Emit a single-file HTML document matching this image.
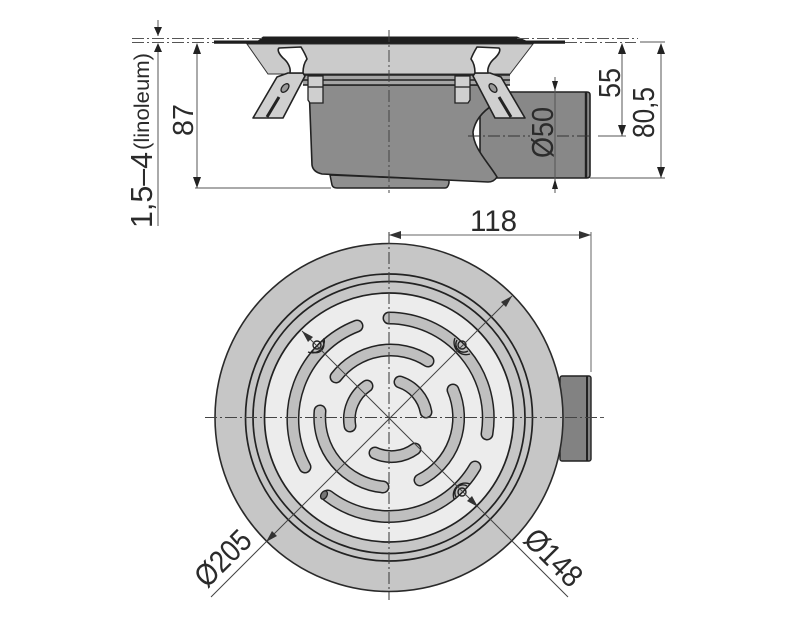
<!DOCTYPE html>
<html><head><meta charset="utf-8"><style>
html,body{margin:0;padding:0;background:#fff}
svg{display:block}
text{font-family:"Liberation Sans",sans-serif;fill:#2b2b2b}
</style></head><body>
<svg width="799" height="630" viewBox="0 0 799 630" xmlns="http://www.w3.org/2000/svg">
<defs>
<g id="clip">
<path d="M305 76 L283 118 L253 118 L277 77 L288 73 L303 73 Z" fill="#cfcfcf" stroke="#222" stroke-width="1.6" stroke-linejoin="round"/>
<path d="M267 117 L279 97" stroke="#222" stroke-width="3" fill="none"/>
<ellipse cx="285" cy="88" rx="5" ry="3" transform="rotate(-50 285 88)" fill="#999" stroke="#222" stroke-width="1.3"/>
<path d="M290 73 C291 68 288 62 283 58 C279 54 277 50 279 48 L301 47 C304 52 306 56 307 59 C304 63 303 68 303 73 Z" fill="#fff" stroke="#222" stroke-width="1.6" stroke-linejoin="round"/>
<path d="M308 76 H323 V103 H310 L308 100 Z" fill="#cfcfcf" stroke="#222" stroke-width="1.3"/>
<path d="M308 87 H323" stroke="#222" stroke-width="1.3"/>
</g>
</defs>

<!-- side view -->
<path d="M247 44 H533 L510 74 H268 Z" fill="#cbcbcb" stroke="#333" stroke-width="1"/>
<path d="M480 92 H587 Q590 92 590 95 V175 Q590 178 587 178 H480 Z" fill="#888" stroke="#222" stroke-width="1.6"/>
<path d="M586 92 V178" stroke="#222" stroke-width="2.4"/>
<path d="M330 175 L332 185 Q333 188 337 188 H445 Q448 188 449 183 L449 180 Z" fill="#8f8f8f" stroke="#222" stroke-width="1.5"/>
<path d="M309 85 L312 165 Q313 172 322 174 L488 182 Q494 182 497 177 C488 162 473 148 473 132 C475 120 483 110 498 102 L500 85 Z" fill="#8c8c8c" stroke="#222" stroke-width="1.6"/>
<rect x="303" y="75" width="207" height="10" fill="#a5a5a5"/>
<path d="M303 75 H510 M303 80 H510 M303 85 H510" stroke="#222" stroke-width="1.4"/>
<use href="#clip"/>
<use href="#clip" transform="translate(778 0) scale(-1 1)"/>
<path d="M214 40.5 H258 L263 36.5 H517 L526 40.5 H565 V43.8 H214 Z" fill="#1e1e1e"/>

<!-- side dims -->
<g stroke="#555" stroke-width="1" fill="none">
<path d="M132 38.5 H262 M517 38.5 H638 M132 42.5 H214 M565 42.5 H636" stroke-dasharray="12 3 2 3"/>
<path d="M389 30 V193" stroke-dasharray="12 3 2 3" stroke="#444"/>
<path d="M468 136 H530 M557 136 H590" stroke-dasharray="12 3 2 3" stroke="#333"/>
<path d="M598 136 H626 M590 178 H665 M640 42 H665 M195 188 H331 M158 20 V36 M158 44 V226 M197 44 V188 M622 44 V136 M661 44 V178 M555 77 V193"/>
</g>
<g fill="#222">
<path d="M158 36 L154 27 H162 Z M158 43 L154 52 H162 Z M197 43 L193 54 H201 Z M197 188 L193 177 H201 Z"/>
<path d="M622 43 L618 54 H626 Z M622 136 L618 125 H626 Z M661 43 L657 54 H665 Z M661 178 L657 167 H665 Z"/>
<path d="M555 91 L552 81 H558 Z M555 179 L552 189 H558 Z"/>
</g>
<text transform="translate(152 228) rotate(-90)" font-size="31" textLength="76" lengthAdjust="spacingAndGlyphs">1,5–4</text>
<text transform="translate(149 150) rotate(-90)" font-size="21" textLength="97" lengthAdjust="spacingAndGlyphs">(linoleum)</text>
<text transform="translate(193 136) rotate(-90)" font-size="29" textLength="32" lengthAdjust="spacingAndGlyphs">87</text>
<text transform="translate(620 98) rotate(-90)" font-size="31" textLength="30" lengthAdjust="spacingAndGlyphs">55</text>
<text transform="translate(654 138) rotate(-90)" font-size="31" textLength="51" lengthAdjust="spacingAndGlyphs">80,5</text>
<text transform="translate(553 158) rotate(-90)" font-size="31" textLength="51" lengthAdjust="spacingAndGlyphs">Ø50</text>

<!-- top view -->
<rect x="560" y="376" width="31" height="85" rx="2" fill="#828282" stroke="#222" stroke-width="1.4"/>
<path d="M587 376 V461" stroke="#222" stroke-width="2"/>
<circle cx="389" cy="417.5" r="174" fill="#c6c6c6" stroke="#2a2a2a" stroke-width="1.6"/>
<circle cx="389" cy="417.5" r="143.5" fill="#c6c6c6" stroke="#222" stroke-width="1.7"/>
<circle cx="389" cy="417.5" r="136" fill="#c6c6c6" stroke="#222" stroke-width="1.7"/>
<circle cx="389" cy="417.5" r="124.5" fill="#ececec" stroke="#222" stroke-width="1.7"/>

<g fill="none" stroke-linecap="round">
<g stroke="#222" stroke-width="13">
<path d="M357 326 A100 100 0 0 0 305 467"/>
<path d="M320 411 A70 70 0 0 0 383 487"/>
<path d="M328 496 A100 100 0 0 0 475 467"/>
<path d="M375 453 A40 40 0 0 0 415 449"/>
<path d="M400 382 A39 39 0 0 1 426 412"/>
<path d="M453 390 A70 70 0 0 1 420 480"/>
<path d="M389 318 A100 100 0 0 1 487 434"/>
<path d="M336 377 A69 69 0 0 1 428 361"/>
<path d="M367 386 A40 40 0 0 0 350 426"/>
</g>
<g stroke="#bfbfbf" stroke-width="10">
<path d="M357 326 A100 100 0 0 0 305 467"/>
<path d="M320 411 A70 70 0 0 0 383 487"/>
<path d="M328 496 A100 100 0 0 0 475 467"/>
<path d="M375 453 A40 40 0 0 0 415 449"/>
<path d="M400 382 A39 39 0 0 1 426 412"/>
<path d="M453 390 A70 70 0 0 1 420 480"/>
<path d="M389 318 A100 100 0 0 1 487 434"/>
<path d="M336 377 A69 69 0 0 1 428 361"/>
<path d="M367 386 A40 40 0 0 0 350 426"/>
</g>
</g>
<g fill="none" stroke="#222" stroke-width="1.4">
<circle cx="317" cy="345" r="4"/><circle cx="462" cy="345" r="4"/><circle cx="462" cy="492" r="4"/>
<path d="M308 352 A12 12 0 0 0 324 338 M311 351 A8 8 0 0 0 323 341"/>
<path d="M455 338 A12 12 0 0 0 470 354 M457 340 A8 8 0 0 0 468 351"/>
<path d="M470 484 A12 12 0 0 0 454 499 M467 486 A8 8 0 0 0 456 497"/>
</g>
<ellipse cx="324" cy="495" rx="3" ry="4.5" transform="rotate(30 324 495)" fill="#777" stroke="#222" stroke-width="1.3"/>

<!-- top dims -->
<g fill="none" stroke="#555" stroke-width="1">
<path d="M389 232 V600 M205 417.5 H600" stroke-dasharray="12 3 2 3" stroke="#444" stroke-width="1.1"/>
<path d="M600 417.5 H606" stroke-dasharray="4 2"/>
<path d="M389 235 H591 M591 232 V372" stroke="#666"/>
<path d="M512 296 L211 597 M302 331 L568 597" stroke="#444"/>
</g>
<g fill="#333">
<path d="M389 235 L401 231 V239 Z M591 235 L579 231 V239 Z"/>
<path d="M512 296 L501 302 L506 307 Z M266 542 L277 536 L272 531 Z"/>
<path d="M302 331 L313 337 L308 342 Z M478 507 L467 501 L472 496 Z"/>
</g>
<text x="470" y="231" font-size="30" textLength="47" lengthAdjust="spacingAndGlyphs">118</text>
<text transform="translate(207 589) rotate(-45)" font-size="31" textLength="66" lengthAdjust="spacingAndGlyphs">Ø205</text>
<text transform="translate(522 541) rotate(45)" font-size="31" textLength="68" lengthAdjust="spacingAndGlyphs">Ø148</text>
</svg>
</body></html>
